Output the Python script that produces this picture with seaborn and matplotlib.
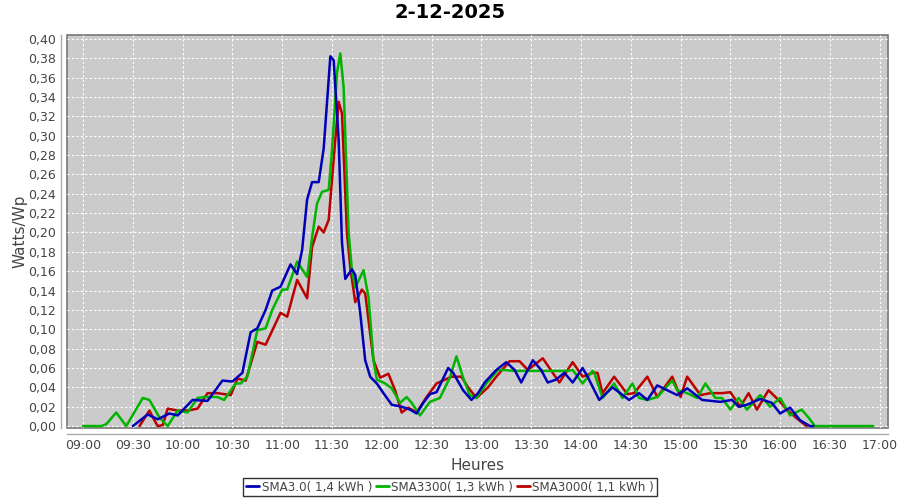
import seaborn as sns
import pandas as pd
import matplotlib
matplotlib.use('Agg')
from matplotlib import pyplot as plt
import matplotlib.dates as mdates
from matplotlib.ticker import FuncFormatter, MultipleLocator
from matplotlib.lines import Line2D

day = "2025-12-02"
names = ["SMA3.0( 1,4 kWh )", "SMA3300( 1,3 kWh )", "SMA3000( 1,1 kWh )"]
colors = ["#0000b8", "#00b400", "#bb0000"]

# SMA3.0
t_blue = ["09:30", "09:39", "09:45", "09:52", "09:57", "10:06", "10:15", "10:24", "10:30", "10:36",
          "10:41", "10:45", "10:50", "10:54", "10:59", "11:05", "11:09", "11:12", "11:15", "11:18",
          "11:22", "11:25", "11:29", "11:31", "11:34", "11:36", "11:38", "11:42", "11:44", "11:47",
          "11:50", "11:53", "11:57", "12:01", "12:06", "12:12", "12:17", "12:21", "12:25", "12:29",
          "12:33", "12:40", "12:43", "12:49", "12:54", "12:58", "13:02", "13:09", "13:15", "13:20",
          "13:24", "13:31", "13:36", "13:40", "13:45", "13:50", "13:55", "14:01", "14:04", "14:11",
          "14:19", "14:29", "14:35", "14:40", "14:46", "14:58", "15:04", "15:13", "15:24", "15:31",
          "15:35", "15:40", "15:48", "15:55", "16:00", "16:06", "16:12", "16:18", "16:20"]
v_blue = [0.000, 0.012, 0.007, 0.013, 0.011, 0.027, 0.026, 0.047, 0.046, 0.055,
          0.097, 0.101, 0.120, 0.140, 0.144, 0.167, 0.157, 0.182, 0.234, 0.252,
          0.252, 0.287, 0.382, 0.378, 0.296, 0.190, 0.152, 0.162, 0.156, 0.117,
          0.068, 0.051, 0.044, 0.034, 0.022, 0.020, 0.017, 0.013, 0.024, 0.033,
          0.035, 0.060, 0.055, 0.037, 0.027, 0.034, 0.045, 0.058, 0.066, 0.058,
          0.045, 0.068, 0.058, 0.045, 0.048, 0.055, 0.045, 0.060, 0.051, 0.027,
          0.040, 0.027, 0.034, 0.027, 0.042, 0.032, 0.039, 0.027, 0.025, 0.027,
          0.020, 0.022, 0.028, 0.024, 0.013, 0.019, 0.006, 0.000, 0.000]

# SMA3300
t_green = ["09:00", "09:11", "09:14", "09:20", "09:26", "09:36", "09:40", "09:46", "09:51", "09:57", "10:03",
           "10:09", "10:13", "10:21", "10:25", "10:32", "10:35", "10:39", "10:45", "10:50", "10:54",
           "11:00", "11:03", "11:09", "11:15", "11:18", "11:21", "11:24", "11:28", "11:30", "11:33",
           "11:35", "11:37", "11:40", "11:42", "11:44", "11:49", "11:52", "11:55", "11:57", "12:02",
           "12:06", "12:11", "12:15", "12:18", "12:23", "12:29", "12:35", "12:41", "12:45", "12:49",
           "12:53", "12:57", "13:03", "13:10", "13:13", "13:20", "13:30", "13:40", "13:52", "13:55",
           "14:01", "14:07", "14:08", "14:13", "14:20", "14:25", "14:31", "14:35", "14:40", "14:46",
           "14:55", "14:58", "15:04", "15:10", "15:15", "15:21", "15:25", "15:30", "15:35", "15:40",
           "15:48", "15:54", "16:00", "16:06", "16:13", "16:17", "16:21", "16:30", "16:40", "16:56"]
v_green = [0.000, 0.000, 0.002, 0.014, 0.000, 0.029, 0.027, 0.009, 0.000, 0.016, 0.014,
           0.029, 0.030, 0.030, 0.027, 0.044, 0.044, 0.051, 0.099, 0.101, 0.120,
           0.141, 0.141, 0.170, 0.154, 0.195, 0.230, 0.242, 0.244, 0.285, 0.365,
           0.385, 0.350, 0.200, 0.161, 0.143, 0.161, 0.133, 0.068, 0.048, 0.044,
           0.039, 0.024, 0.030, 0.024, 0.011, 0.025, 0.029, 0.050, 0.072, 0.050,
           0.032, 0.029, 0.044, 0.058, 0.058, 0.057, 0.057, 0.057, 0.057, 0.058,
           0.044, 0.057, 0.055, 0.029, 0.044, 0.029, 0.044, 0.029, 0.027, 0.030,
           0.047, 0.037, 0.034, 0.029, 0.044, 0.029, 0.029, 0.017, 0.029, 0.017,
           0.032, 0.020, 0.029, 0.011, 0.017, 0.009, 0.000, 0.000, 0.000, 0.000]

# SMA3000
t_red = ["09:34", "09:40", "09:43", "09:45", "09:48", "09:51", "09:57", "10:03", "10:09", "10:15",
         "10:21", "10:29", "10:33", "10:38", "10:45", "10:50", "10:59", "11:03", "11:09", "11:15",
         "11:18", "11:22", "11:25", "11:28", "11:32", "11:34", "11:36", "11:39", "11:41", "11:44",
         "11:48", "11:50", "11:55", "11:59", "12:04", "12:08", "12:12", "12:16", "12:21", "12:27",
         "12:33", "12:42", "12:48", "12:52", "12:57", "13:04", "13:09", "13:17", "13:23", "13:28",
         "13:37", "13:43", "13:47", "13:55", "14:01", "14:07", "14:10", "14:13", "14:20", "14:28",
         "14:32", "14:40", "14:46", "14:55", "15:00", "15:04", "15:12", "15:18", "15:25", "15:30",
         "15:36", "15:41", "15:46", "15:53", "15:59", "16:04", "16:10", "16:16"]
v_red = [0.000, 0.016, 0.006, 0.000, 0.001, 0.018, 0.016, 0.016, 0.018, 0.034,
         0.034, 0.032, 0.049, 0.047, 0.087, 0.084, 0.117, 0.113, 0.151, 0.132,
         0.185, 0.206, 0.200, 0.213, 0.296, 0.335, 0.323, 0.200, 0.164, 0.128,
         0.141, 0.137, 0.068, 0.050, 0.054, 0.037, 0.014, 0.019, 0.014, 0.030,
         0.044, 0.051, 0.051, 0.040, 0.029, 0.040, 0.051, 0.067, 0.067, 0.058,
         0.070, 0.055, 0.045, 0.066, 0.051, 0.055, 0.055, 0.034, 0.051, 0.033,
         0.034, 0.051, 0.030, 0.051, 0.030, 0.051, 0.032, 0.034, 0.034, 0.035,
         0.020, 0.034, 0.017, 0.037, 0.027, 0.017, 0.008, 0.000]

frames = []
for name, t, v in zip(names, [t_blue, t_green, t_red], [v_blue, v_green, v_red]):
    frames.append(pd.DataFrame({'time': pd.to_datetime([day + " " + x for x in t]),
                                'value': v, 'serie': name}))
df = pd.concat(frames, ignore_index=True)

sns.set_style("white")
plt.rcParams['font.family'] = ['DejaVu Sans']

fig = plt.figure(figsize=(9, 5), dpi=100)
ax = fig.add_axes([67/900, 1 - 428/500, 821/900, 393/500])
ax.set_facecolor('#cbcbcb')

sns.lineplot(data=df, x='time', y='value', hue='serie', hue_order=names,
             palette=colors, linewidth=1.8, estimator=None, legend=False, ax=ax)
# blue drawn on top, like the original renderer
for ln, z in zip(ax.get_lines(), [5, 4, 3]):
    ln.set_zorder(z)

ax.set_xlim(pd.Timestamp(day + " 08:50:20"), pd.Timestamp(day + " 17:05:00"))
ax.set_ylim(-0.002, 0.404)
ax.xaxis.set_major_locator(mdates.MinuteLocator(byminute=[0, 30]))
ax.xaxis.set_major_formatter(mdates.DateFormatter('%H:%M'))
ax.yaxis.set_major_locator(MultipleLocator(0.02))
ax.yaxis.set_major_formatter(FuncFormatter(lambda v, p: f"{v:.2f}".replace('.', ',')))

ax.grid(True, color='white', linestyle=(0, (2, 2)), linewidth=0.8)
ax.set_axisbelow(True)

ax.patch.set_edgecolor('#777777')
ax.patch.set_linewidth(1.2)
for s in ['top', 'right']:
    ax.spines[s].set_visible(False)
for s in ['left', 'bottom']:
    ax.spines[s].set_position(('outward', 4))
    ax.spines[s].set_color('#aaaaaa')
    ax.spines[s].set_linewidth(1)
ax.tick_params(axis='both', direction='out', length=2, width=1, color='#aaaaaa',
               labelsize=9, labelcolor='#444444', pad=2)

ax.set_xlabel('Heures', fontsize=11, color='#444444', labelpad=4)
ax.set_ylabel('Watts/Wp', fontsize=11, color='#444444', labelpad=0)
fig.suptitle('2-12-2025', fontsize=14, fontweight='bold', color='black', y=0.995)

handles = [Line2D([], [], color=c, linewidth=2) for c in colors]
leg = fig.legend(handles, names, loc='center', bbox_to_anchor=(0.5, 0.026), ncol=3,
                 frameon=True, fancybox=False, fontsize=8.6, handlelength=1.1,
                 handletextpad=0.2, columnspacing=0.3, borderpad=0.25,
                 borderaxespad=0)
leg.get_frame().set_edgecolor('black')
leg.get_frame().set_linewidth(1)
for txt in leg.get_texts():
    txt.set_color('#444444')

fig.savefig('out.png', dpi=100)
